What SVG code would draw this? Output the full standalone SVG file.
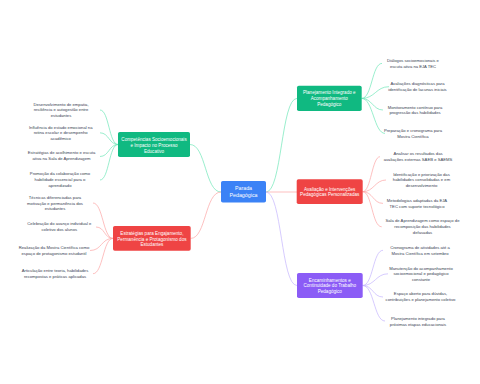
<svg xmlns="http://www.w3.org/2000/svg" width="480" height="384" viewBox="0 0 480 384">
<style>
.bg{fill:#ffffff}
.box{stroke:none}
.bt{font-family:"Liberation Sans",Arial,sans-serif;font-size:4.6px;fill:#ffffff;text-anchor:middle}
.ct{font-family:"Liberation Sans",Arial,sans-serif;font-size:5.3px;fill:#ffffff;text-anchor:middle}
.lt{font-family:"Liberation Sans",Arial,sans-serif;font-size:4.2px;fill:#374151;text-anchor:middle}
.c{fill:none;stroke-width:0.7}
.g{stroke:#6ee7b7}
.r{stroke:#fca5a5}
.p{stroke:#c4b5fd}
</style>
<rect class="bg" x="0" y="0" width="480" height="384"/>
<g id="connectors">
  <path class="c g" d="M221,192 C205,192 206,144.5 190,144.5"/>
  <path class="c r" d="M221,192 C205,192 206,238.4 190.7,238.4"/>
  <path class="c g" d="M266,192 C282,192 281,98.4 297,98.4"/>
  <path class="c r" d="M266,192 L297,192"/>
  <path class="c p" d="M266,192 C282,192 281,285.5 297,285.5"/>
  <path class="c g" d="M361.7,98.4 C372,98.4 372,63.4 382,63.4"/>
  <path class="c g" d="M361.7,98.4 C375,98.4 376,86.7 389,86.7"/>
  <path class="c g" d="M361.7,98.4 C372,98.4 373,110 383,110"/>
  <path class="c g" d="M361.7,98.4 C373,98.4 374,133.4 385,133.4"/>
  <path class="c r" d="M362.7,191.7 C371,191.7 372,156.7 380,156.7"/>
  <path class="c r" d="M362.7,191.7 C374,191.7 375,180 386,180"/>
  <path class="c r" d="M362.7,191.7 C373,191.7 373,203.4 383,203.4"/>
  <path class="c r" d="M362.7,191.7 C372,191.7 372,226.8 381.7,226.8"/>
  <path class="c p" d="M362.7,285.5 C373,285.5 373,250.3 383,250.3"/>
  <path class="c p" d="M362.7,285.5 C375,285.5 376,273.8 388,273.8"/>
  <path class="c p" d="M362.7,285.5 C373,285.5 373,297 383,297"/>
  <path class="c p" d="M362.7,285.5 C374,285.5 374,321 385,321"/>
  <path class="c g" d="M118,144.5 C109,144.5 109,110 100,110"/>
  <path class="c g" d="M118,144.5 C109,144.5 109,132.8 100,132.8"/>
  <path class="c g" d="M118,144.5 C109,144.5 109,156.5 100,156.5"/>
  <path class="c g" d="M118,144.5 C109,144.5 109,180 100,180"/>
  <path class="c r" d="M113,238.4 C103,238.4 103,203 93,203"/>
  <path class="c r" d="M113,238.4 C104,238.4 105,227 96,227"/>
  <path class="c r" d="M113,238.4 C101,238.4 102,250.5 90,250.5"/>
  <path class="c r" d="M113,238.4 C103,238.4 103,273.7 93,273.7"/>
</g>
<g id="center">
  <rect class="box" x="221" y="181" width="45" height="21.5" rx="1.8" fill="#3b82f6"/>
  <text class="ct"><tspan x="243.5" y="190.1">Parada</tspan><tspan x="243.5" y="196.8">Pedagógica</tspan></text>
</g>
<g id="n-competencias">
  <rect class="box" x="118" y="132" width="72" height="25" rx="1.8" fill="#10b981"/>
  <text class="bt"><tspan x="154" y="141.3">Competências Socioemocionais</tspan><tspan x="154" y="146.9">e Impacto no Processo</tspan><tspan x="154" y="152.5">Educativo</tspan></text>
</g>
<g id="n-estrategias">
  <rect class="box" x="113" y="226" width="77.7" height="24.7" rx="1.8" fill="#ef4444"/>
  <text class="bt"><tspan x="151.9" y="234.9">Estratégias para Engajamento,</tspan><tspan x="151.9" y="240.5">Permanência e Protagonismo dos</tspan><tspan x="151.9" y="246.1">Estudantes</tspan></text>
</g>
<g id="n-planejamento">
  <rect class="box" x="297" y="85.8" width="64.7" height="25.2" rx="1.8" fill="#10b981"/>
  <text class="bt"><tspan x="329.3" y="94.3">Planejamento Integrado e</tspan><tspan x="329.3" y="99.9">Acompanhamento</tspan><tspan x="329.3" y="105.5">Pedagógico</tspan></text>
</g>
<g id="n-avaliacao">
  <rect class="box" x="296.7" y="179.3" width="66" height="24.7" rx="1.8" fill="#ef4444"/>
  <text class="bt"><tspan x="329.7" y="190.6">Avaliação e Intervenções</tspan><tspan x="329.7" y="196.2">Pedagógicas Personalizadas</tspan></text>
</g>
<g id="n-encaminhamentos">
  <rect class="box" x="297" y="273" width="65.7" height="25" rx="1.8" fill="#8b5cf6"/>
  <text class="bt"><tspan x="329.8" y="281.7">Encaminhamentos e</tspan><tspan x="329.8" y="287.3">Continuidade do Trabalho</tspan><tspan x="329.8" y="292.9">Pedagógico</tspan></text>
</g>
<g id="lg1"><text class="lt"><tspan x="61" y="105.7">Desenvolvimento de empatia,</tspan><tspan x="61" y="111.3">resiliência e autogestão entre</tspan><tspan x="61" y="116.9">estudantes</tspan></text></g>
<g id="lg2"><text class="lt"><tspan x="60.7" y="128.7">Influência do estado emocional na</tspan><tspan x="60.7" y="134.3">rotina escolar e desempenho</tspan><tspan x="60.7" y="139.9">acadêmico</tspan></text></g>
<g id="lg3"><text class="lt"><tspan x="61.5" y="154.3">Estratégias de acolhimento e escuta</tspan><tspan x="61.5" y="160.1">ativa na Sala de Aprendizagem</tspan></text></g>
<g id="lg4"><text class="lt"><tspan x="60" y="175.4">Promoção da colaboração como</tspan><tspan x="60" y="181">habilidade essencial para o</tspan><tspan x="60" y="186.8">aprendizado</tspan></text></g>
<g id="lr1"><text class="lt"><tspan x="55" y="198.7">Técnicas diferenciadas para</tspan><tspan x="55" y="204.5">motivação e permanência dos</tspan><tspan x="55" y="210.3">estudantes</tspan></text></g>
<g id="lr2"><text class="lt"><tspan x="59.3" y="225.4">Celebração do avanço individual e</tspan><tspan x="59.3" y="231.2">coletivo dos alunos</tspan></text></g>
<g id="lr3"><text class="lt"><tspan x="54" y="248.7">Realização da Mostra Científica como</tspan><tspan x="54" y="254.5">espaço de protagonismo estudantil</tspan></text></g>
<g id="lr4"><text class="lt"><tspan x="55" y="272.1">Articulação entre teoria, habilidades</tspan><tspan x="55" y="277.9">recompostas e práticas aplicadas</tspan></text></g>
<g id="rg1"><text class="lt"><tspan x="413" y="62.1">Diálogos socioemocionais e</tspan><tspan x="413" y="67.5">escuta ativa na EJA TEC</tspan></text></g>
<g id="rg2"><text class="lt"><tspan x="417.5" y="85.4">Avaliações diagnósticas para</tspan><tspan x="417.5" y="90.8">identificação de lacunas iniciais</tspan></text></g>
<g id="rg3"><text class="lt"><tspan x="415" y="108.7">Monitoramento contínuo para</tspan><tspan x="415" y="114.1">progressão das habilidades</tspan></text></g>
<g id="rg4"><text class="lt"><tspan x="413" y="132.1">Preparação e cronograma para</tspan><tspan x="413" y="137.5">Mostra Científica</tspan></text></g>
<g id="rr1"><text class="lt"><tspan x="418" y="155.4">Analisar os resultados das</tspan><tspan x="418" y="160.8">avaliações externas SAEB e SAEMS</tspan></text></g>
<g id="rr2"><text class="lt"><tspan x="421.5" y="175.7">Identificação e priorização das</tspan><tspan x="421.5" y="181.3">habilidades consolidadas e em</tspan><tspan x="421.5" y="186.9">desenvolvimento</tspan></text></g>
<g id="rr3"><text class="lt"><tspan x="417" y="202.1">Metodologias adaptadas da EJA</tspan><tspan x="417" y="207.5">TEC com suporte tecnológico</tspan></text></g>
<g id="rr4"><text class="lt"><tspan x="422.5" y="222.4">Sala de Aprendizagem como espaço de</tspan><tspan x="422.5" y="228.2">recomposição das habilidades</tspan><tspan x="422.5" y="234">defasadas</tspan></text></g>
<g id="rp1"><text class="lt"><tspan x="420" y="248.7">Cronograma de atividades até a</tspan><tspan x="420" y="254.5">Mostra Científica em setembro</tspan></text></g>
<g id="rp2"><text class="lt"><tspan x="421" y="269.7">Manutenção do acompanhamento</tspan><tspan x="421" y="275.3">socioemocional e pedagógico</tspan><tspan x="421" y="280.9">constante</tspan></text></g>
<g id="rp3"><text class="lt"><tspan x="420.5" y="295.4">Espaço aberto para dúvidas,</tspan><tspan x="420.5" y="301.2">contribuições e planejamento coletivo</tspan></text></g>
<g id="rp4"><text class="lt"><tspan x="418" y="319.7">Planejamento integrado para</tspan><tspan x="418" y="325.5">próximas etapas educacionais</tspan></text></g>
</svg>
